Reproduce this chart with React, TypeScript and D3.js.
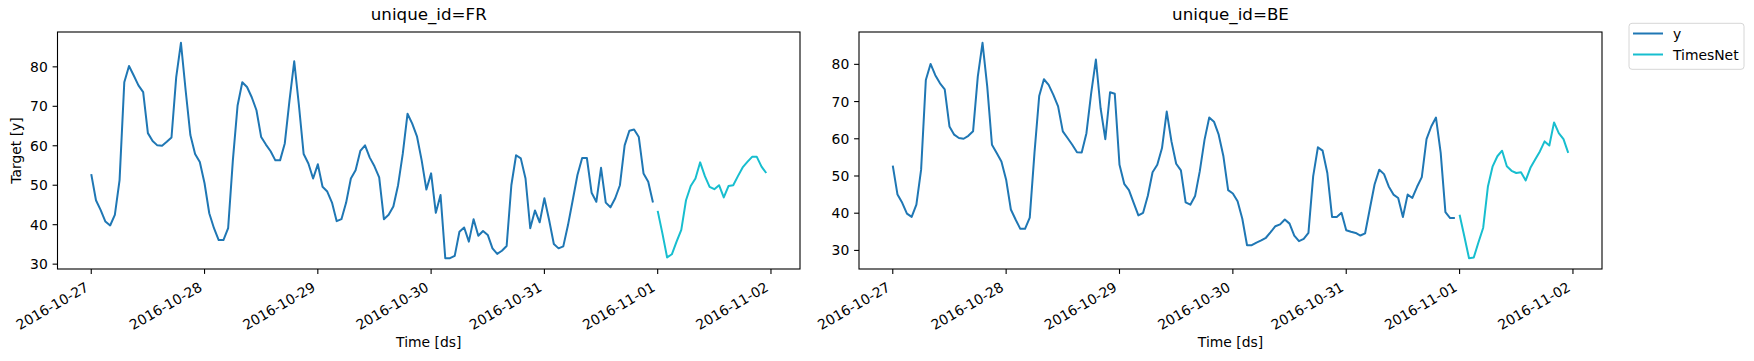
import React from 'react';
import * as d3 from 'd3';

const START = Date.UTC(2016, 9, 27, 0);

const FR_Y = [
  52.8, 46.2, 43.7, 40.8, 39.8, 42.5, 51.3, 76.1, 80.2, 77.8, 75.3, 73.6, 63.2, 61.2, 60.1, 60.0, 61.0, 62.1, 77.4, 86.1, 74.0, 62.7, 57.9, 55.9,
  50.5, 42.9, 39.1, 36.1, 36.1, 39.1, 56.3, 70.2, 76.1, 74.9, 72.3, 69.0, 62.2, 60.3, 58.6, 56.3, 56.3, 60.6, 71.5, 81.4, 70.2, 57.9, 55.5, 51.7,
  55.3, 49.6, 48.4, 45.6, 40.9, 41.4, 45.6, 51.7, 53.8, 58.7, 60.1, 57.0, 54.8, 52.0, 41.4, 42.5, 44.6, 50.0, 58.0, 68.1, 65.6, 62.4, 56.3, 48.9,
  53.0, 43.0, 47.5, 31.5, 31.5, 32.1, 38.2, 39.3, 35.7, 41.4, 37.2, 38.4, 37.4, 34.0, 32.6, 33.4, 34.6, 50.0, 57.6, 56.8, 51.7, 39.1, 43.6, 40.6,
  46.7, 41.2, 35.1, 34.0, 34.5, 39.9, 46.2, 52.6, 56.9, 56.9, 48.1, 45.8, 54.4, 45.6, 44.4, 46.7, 50.0, 60.1, 63.8, 64.1, 62.2, 53.0, 50.9, 45.6,
];
const FR_TIMESNET = [
  43.5, 37.8, 31.7, 32.5, 35.7, 38.7, 46.2, 49.8, 51.7, 55.8, 52.3, 49.6, 49.0, 50.0, 46.9, 49.8, 50.0, 52.3, 54.5, 55.9, 57.2, 57.2, 54.7, 53.1,
];

const BE_Y = [
  52.8, 45.0, 42.8, 39.9, 39.0, 42.3, 51.7, 75.8, 80.1, 77.1, 74.9, 73.3, 63.3, 61.1, 60.2, 60.0, 60.8, 62.0, 76.7, 85.8, 74.0, 58.4, 56.2, 53.9,
  49.0, 41.0, 38.3, 35.8, 35.8, 38.8, 56.2, 71.5, 76.0, 74.5, 71.8, 68.7, 62.0, 60.2, 58.4, 56.4, 56.3, 61.5, 72.2, 81.3, 68.2, 59.9, 72.5, 72.1,
  53.0, 47.9, 46.2, 42.8, 39.4, 40.1, 44.7, 51.0, 53.0, 57.5, 67.3, 59.3, 53.3, 51.5, 42.9, 42.3, 44.6, 51.3, 59.7, 65.7, 64.6, 61.1, 55.3, 46.2,
  45.3, 43.2, 38.5, 31.4, 31.4, 32.1, 32.7, 33.4, 34.9, 36.5, 37.0, 38.3, 37.2, 34.0, 32.5, 33.1, 34.7, 49.9, 57.7, 56.8, 50.8, 39.0, 39.0, 40.1,
  35.4, 35.0, 34.7, 34.0, 34.6, 41.2, 47.7, 51.7, 50.5, 47.2, 45.0, 44.1, 39.0, 45.0, 44.1, 47.1, 49.7, 59.9, 63.3, 65.7, 56.2, 40.3, 38.7, 38.7,
];
const BE_TIMESNET = [
  39.6, 33.8, 27.9, 28.1, 32.2, 36.1, 47.2, 52.6, 55.3, 56.8, 52.6, 51.4, 50.8, 51.0, 48.8, 52.2, 54.4, 56.6, 59.3, 58.2, 64.4, 61.5, 59.9, 56.2,
];

const SERIES_NAMES = ['y', 'TimesNet'];
const COLORS = ['#1f77b4', '#17becf'];

const W = 1754;
const H = 361;
const FONT = 'DejaVu Sans, sans-serif';
const TOP = 32;
const BOTTOM = 269;

type Pt = { t: Date; v: number };

const toPts = (vals: number[], offset: number): Pt[] =>
  vals.map((v, i) => ({ t: new Date(START + (offset + i) * 3600e3), v }));

function Panel({ id, left, right, y, fc }: { id: string; left: number; right: number; y: number[]; fc: number[] }) {
  const hist = toPts(y, 0);
  const pred = toPts(fc, y.length);
  const all = hist.concat(pred);

  const [t0, t1] = d3.extent(all, d => +d.t) as [number, number];
  const tp = (t1 - t0) * 0.05;
  const x = d3.scaleUtc().domain([new Date(t0 - tp), new Date(t1 + tp)]).range([left, right]);

  const [v0, v1] = d3.extent(all, d => d.v) as [number, number];
  const vp = (v1 - v0) * 0.05;
  const yScale = d3.scaleLinear().domain([v0 - vp, v1 + vp]).range([BOTTOM, TOP]);

  const line = d3.line<Pt>().x(d => x(d.t)).y(d => yScale(d.v));
  const xTicks = x.ticks(d3.utcDay.every(1)!);
  const fmt = d3.utcFormat('%Y-%m-%d');
  const yTicks = yScale.ticks(6);
  const cx = (left + right) / 2;

  return (
    <g>
      <path d={line(hist)!} fill="none" stroke={COLORS[0]} strokeWidth={2} strokeLinejoin="round" />
      <path d={line(pred)!} fill="none" stroke={COLORS[1]} strokeWidth={2} strokeLinejoin="round" />
      <rect x={left} y={TOP} width={right - left} height={BOTTOM - TOP} fill="none" stroke="#000" strokeWidth={1.1} />
      {xTicks.map(t => (
        <g key={+t}>
          <line x1={x(t)} x2={x(t)} y1={BOTTOM} y2={BOTTOM + 4.9} stroke="#000" strokeWidth={1.1} />
          <text
            transform={`translate(${x(t) - 1.5},${290}) rotate(-30)`}
            textAnchor="end"
            fontSize={13.9}
            fontFamily={FONT}
            fill="#000"
          >
            {fmt(t)}
          </text>
        </g>
      ))}
      {yTicks.map(v => (
        <g key={v}>
          <line x1={left - 4.9} x2={left} y1={yScale(v)} y2={yScale(v)} stroke="#000" strokeWidth={1.1} />
          <text x={left - 9.7} y={yScale(v)} dy="0.36em" textAnchor="end" fontSize={13.9} fontFamily={FONT} fill="#000">
            {v}
          </text>
        </g>
      ))}
      <text x={cx} y={20} textAnchor="middle" fontSize={16.7} fontFamily={FONT} fill="#000">
        unique_id={id}
      </text>
      <text x={cx} y={347} textAnchor="middle" fontSize={13.9} fontFamily={FONT} fill="#000">
        Time [ds]
      </text>
    </g>
  );
}

export default function App() {
  return (
    <svg width={W} height={H} style={{ position: 'absolute', left: 0, top: 0, background: '#fff' }}>
      <rect width={W} height={H} fill="#fff" />
      <Panel id="FR" left={57.5} right={800} y={FR_Y} fc={FR_TIMESNET} />
      <Panel id="BE" left={859} right={1602} y={BE_Y} fc={BE_TIMESNET} />
      <text
        transform={`translate(21,${(TOP + BOTTOM) / 2}) rotate(-90)`}
        textAnchor="middle"
        fontSize={13.9}
        fontFamily={FONT}
        fill="#000"
      >
        Target [y]
      </text>
      <g>
        <rect x={1629} y={23.3} width={115} height={46} rx={3} fill="#fff" stroke="#d6d6d6" strokeWidth={1} />
        {SERIES_NAMES.map((name, i) => (
          <g key={name}>
            <line x1={1633} x2={1663} y1={33.5 + i * 21} y2={33.5 + i * 21} stroke={COLORS[i]} strokeWidth={2} />
            <text x={1673} y={33.5 + i * 21} dy="0.36em" fontSize={13.9} fontFamily={FONT} fill="#000">
              {name}
            </text>
          </g>
        ))}
      </g>
    </svg>
  );
}
